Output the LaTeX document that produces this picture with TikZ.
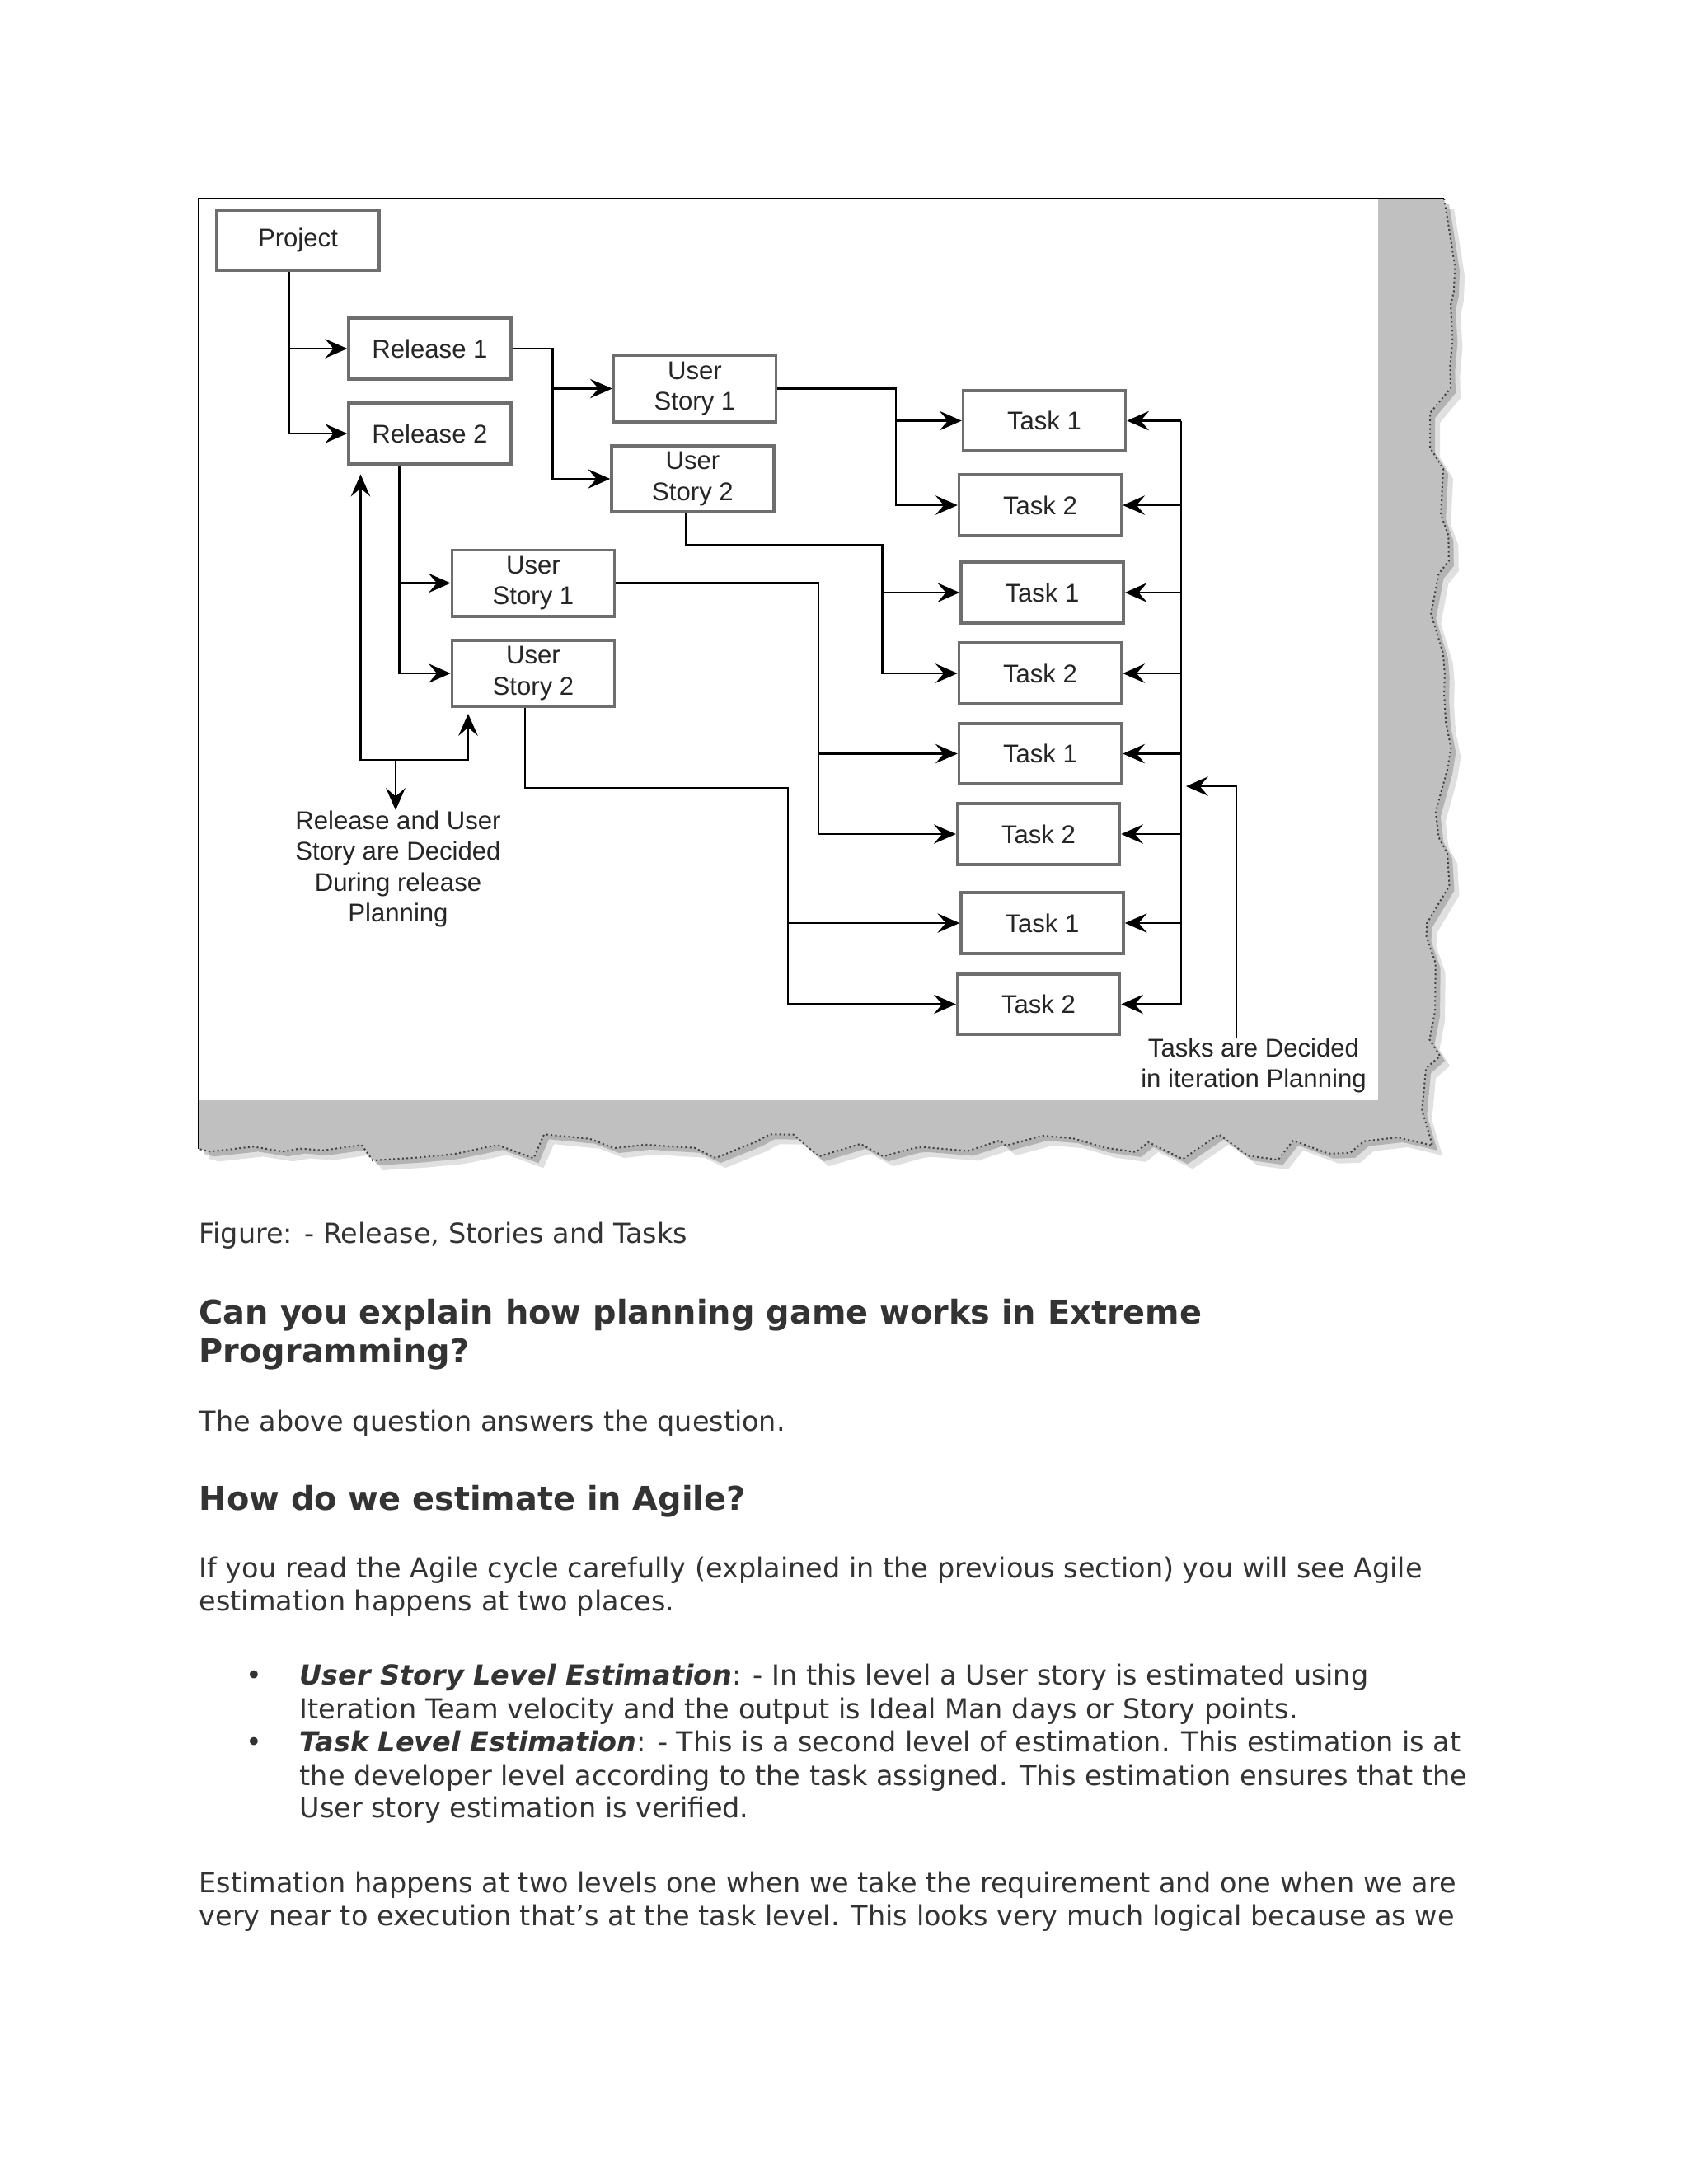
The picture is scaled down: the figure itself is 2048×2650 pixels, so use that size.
\documentclass[tikz,border=0pt]{standalone}
\usepackage{fontspec}
\setmainfont{DejaVu Sans}
\newfontfamily\diagfont{Liberation Sans}
\usetikzlibrary{arrows.meta,decorations.pathmorphing}
\definecolor{boxgray}{HTML}{6E6E6E}
\definecolor{paper}{HTML}{C0C0C0}
\definecolor{ink}{HTML}{333333}
\tikzset{
  box/.style={draw=boxgray, line width=1.1pt, fill=white, minimum width=58.8pt, minimum height=22pt, inner sep=0pt, align=center, text=black!85, font=\diagfont\fontsize{9.3}{11.2}\selectfont},
  storybox/.style={box, minimum height=24pt},
  link/.style={line width=0.75pt, -{Stealth[length=8pt,width=7pt,inset=3pt]}},
  bare/.style={line width=0.75pt},
  note/.style={align=center, inner sep=0pt, text=black!85, font=\diagfont\fontsize{9.3}{11.2}\selectfont},
  para/.style={anchor=base west, inner sep=0pt, text=ink, font=\fontsize{10}{12}\selectfont},
  head/.style={anchor=base west, inner sep=0pt, text=ink, font=\bfseries\fontsize{11.9}{14}\selectfont},
  torn/.style={decoration={random steps, segment length=10pt, amplitude=5pt}},
}
\begin{document}
\begin{tikzpicture}[x=0.2988pt,y=0.2988pt,yscale=-1,xscale=1]
\useasboundingbox (0,0) rectangle (2048,2650);
\fill [white] (0,0) rectangle (2048,2650);

%Shape: Torn Paper Shadow
\pgfmathsetseed{41}
\fill [black, opacity=0.12, shift={(12,12)}] (241,241) -- (1752,241) decorate [torn] { -- (1738,1390) -- (241,1394) } -- cycle;
\pgfmathsetseed{41}
\fill [black, opacity=0.2, shift={(6,6)}] (241,241) -- (1752,241) decorate [torn] { -- (1738,1390) -- (241,1394) } -- cycle;
%Shape: Torn Paper
\pgfmathsetseed{41}
\fill [paper] (241,241) -- (1752,241) decorate [torn] { -- (1738,1390) -- (241,1394) } -- cycle;
\pgfmathsetseed{41}
\draw [black!75, densely dotted, line width=0.6pt] (1752,241) decorate [torn] { -- (1738,1390) -- (241,1394) };
%Shape: Rectangle
\fill [white] (241,241) rectangle (1672,1335);
%Straight Lines
\draw [line width=0.8pt] (241,1394) -- (241,241) -- (1752,241);

%Shape: Rectangle
\node [box] (proj) at (361.5,291.5) {Project};
\node [box] (rel1) at (521.5,423) {Release 1};
\node [box] (rel2) at (521.5,526) {Release 2};
\node [storybox] (usA1) at (843,471.5) {User\\Story 1};
\node [storybox] (usA2) at (840.5,581) {User\\Story 2};
\node [storybox] (usB1) at (647,707.5) {User\\Story 1};
\node [storybox] (usB2) at (647,817) {User\\Story 2};
\node [box] (t11) at (1267,510.5) {Task 1};
\node [box] (t12) at (1262,613) {Task 2};
\node [box] (t21) at (1264.5,719) {Task 1};
\node [box] (t22) at (1262,817) {Task 2};
\node [box] (t31) at (1262,914.5) {Task 1};
\node [box] (t32) at (1260,1012) {Task 2};
\node [box] (t41) at (1264.5,1120) {Task 1};
\node [box] (t42) at (1260,1218.5) {Task 2};

% Text Node
\node [note, anchor=north] (rlab) at (483,983) {Release and User\\Story are Decided\\During release\\Planning};
% Text Node
\node [note, anchor=north] (tlab) at (1521,1259) {Tasks are Decided\\in iteration Planning};

\coordinate (bus) at (1433,510);
\coordinate (tip) at (1439,954);
\coordinate (rj) at (480,922);

%Straight Lines
\draw [link] ([shift={(-11,0)}]proj.south) |- (rel1.west);
\draw [link] ([shift={(-11,0)}]proj.south) |- (rel2.west);
\draw [link] (rel1.east) -- ++(49,0) |- (usA1.west);
\draw [link] (rel1.east) -- ++(49,0) |- (usA2.west);
\draw [link] ([shift={(-37,0)}]rel2.south) |- (usB1.west);
\draw [link] ([shift={(-37,0)}]rel2.south) |- (usB2.west);
%Straight Lines
\draw [link] (usA1.east) -- ++(144,0) |- (t11.west);
\draw [link] (usA1.east) -- ++(144,0) |- (t12.west);
\draw [link] ([shift={(-8,0)}]usA2.south) -- ++(0,38) -- ++(238,0) |- (t21.west);
\draw [link] ([shift={(-8,0)}]usA2.south) -- ++(0,38) -- ++(238,0) |- (t22.west);
\draw [link] (usB1.east) -- ++(246,0) |- (t31.west);
\draw [link] (usB1.east) -- ++(246,0) |- (t32.west);
\draw [link] ([shift={(-10,0)}]usB2.south) -- ++(0,97) -- ++(319,0) |- (t41.west);
\draw [link] ([shift={(-10,0)}]usB2.south) -- ++(0,97) -- ++(319,0) |- (t42.west);
%Straight Lines
\draw [bare] (t11.east -| bus) -- (t42.east -| bus);
\draw [link] (t11.east -| bus) -- (t11.east);
\draw [link] (t12.east -| bus) -- (t12.east);
\draw [link] (t21.east -| bus) -- (t21.east);
\draw [link] (t22.east -| bus) -- (t22.east);
\draw [link] (t31.east -| bus) -- (t31.east);
\draw [link] (t32.east -| bus) -- (t32.east);
\draw [link] (t41.east -| bus) -- (t41.east);
\draw [link] (t42.east -| bus) -- (t42.east);
\draw [link] ([shift={(-21,0)}]tlab.north) |- (tip);
%Straight Lines
\draw [link] (rj) -- (rj |- rlab.north);
\draw [link] (rj) -| ([shift={(-84,11)}]rel2.south);
\draw [link] (rj) -| ([shift={(-79,7)}]usB2.south);

% Text Node
\node [para] (cap) at (241,1508) {Figure: - Release, Stories and Tasks};
\node [head] (q1a) at (241,1606) {Can you explain how planning game works in Extreme};
\node [head] (q1b) at (241,1653) {Programming?};
\node [para] (a1) at (241,1736) {The above question answers the question.};
\node [head] (q2) at (241,1832) {How do we estimate in Agile?};
\node [para] (a2a) at (241,1914) {If you read the Agile cycle carefully (explained in the previous section) you will see Agile};
\node [para] (a2b) at (241,1954) {estimation happens at two places.};
% Text Node
\node [para] (b1) at (298,2044) {•};
\node [para] (b1a) at (363,2044) {\textbf{\textit{User Story Level Estimation}}: - In this level a User story is estimated using};
\node [para] (b1b) at (363,2085) {Iteration Team velocity and the output is Ideal Man days or Story points.};
\node [para] (b2) at (298,2125) {•};
\node [para] (b2a) at (363,2125) {\textbf{\textit{Task Level Estimation}}: - This is a second level of estimation. This estimation is at};
\node [para] (b2b) at (363,2166) {the developer level according to the task assigned. This estimation ensures that the};
\node [para] (b2c) at (363,2205) {User story estimation is verified.};
% Text Node
\node [para] (a3a) at (241,2296) {Estimation happens at two levels one when we take the requirement and one when we are};
\node [para] (a3b) at (241,2336) {very near to execution that's at the task level. This looks very much logical because as we};

\end{tikzpicture}
\end{document}
